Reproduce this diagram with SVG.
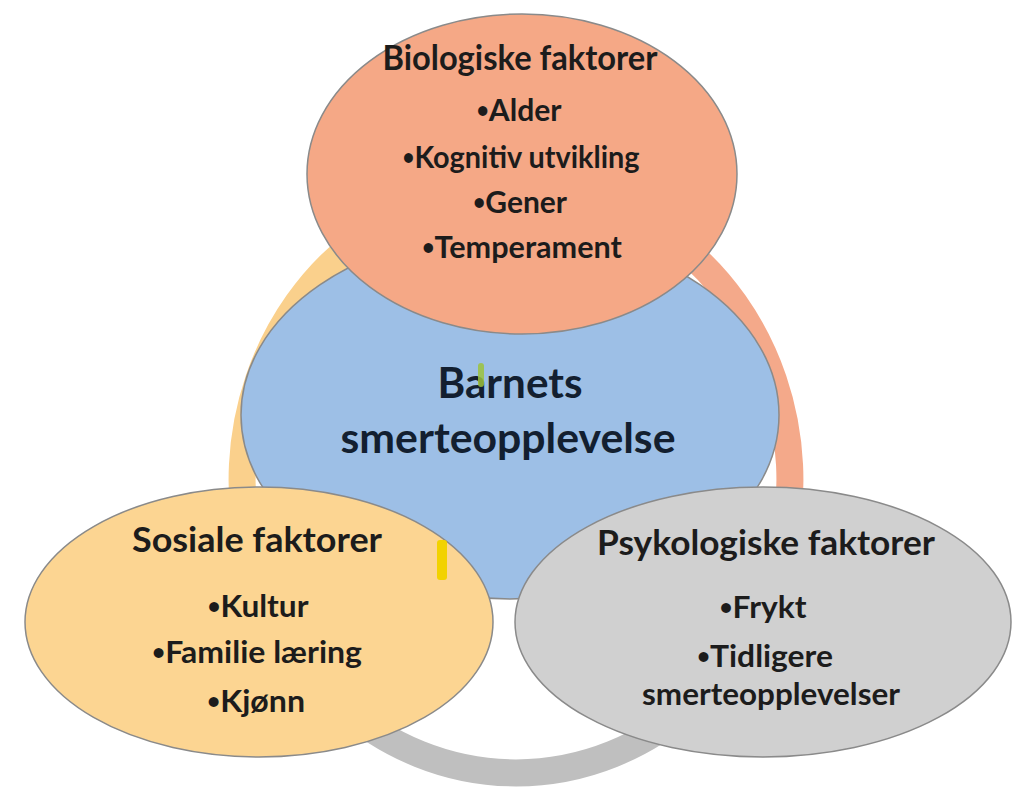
<svg xmlns="http://www.w3.org/2000/svg" width="1025" height="790" viewBox="0 0 1025 790">
<style>
.ring{fill:none;stroke-width:27}
.node{stroke:#8a8a8a;stroke-width:1.5}
.t{font-family:Lato,"Open Sans","Liberation Sans",sans-serif;font-weight:bold;text-anchor:middle;fill:#1c1c1c}
.h{font-size:34px}
.b{font-size:31px}
.c{font-size:42px;fill:#131f30}
.bu{font-size:22px}
</style>
<rect width="1025" height="790" fill="#ffffff"/>
<g id="connectors">
<path class="ring" stroke="#FAD08C" d="M516,187 A274,293 0 0 0 339.9,704.4"/>
<path class="ring" stroke="#BFBFBF" d="M339.9,704.4 A274,293 0 0 0 692.1,704.4"/>
<path class="ring" stroke="#F4A98A" d="M692.1,704.4 A274,293 0 0 0 516,187"/>
</g>
<g id="center">
<ellipse class="node" cx="510" cy="415" rx="269" ry="184" fill="#9DBFE6" stroke="#7f8ea3"/>
<text class="t c" x="510" y="398" textLength="145" lengthAdjust="spacingAndGlyphs">Barnets</text>
<text class="t c" x="508" y="453" textLength="335" lengthAdjust="spacingAndGlyphs">smerteopplevelse</text>
<rect x="478" y="363" width="6" height="24" rx="3" fill="#9cc23c" opacity="0.85"/>
</g>
<g id="biologiske">
<ellipse class="node" cx="522" cy="174" rx="215" ry="160" fill="#F5A886" stroke="#9a8478"/>
<text class="t h" x="520" y="70" textLength="275" lengthAdjust="spacingAndGlyphs">Biologiske faktorer</text>
<text class="t b" x="519" y="121" textLength="85" lengthAdjust="spacingAndGlyphs"><tspan class="bu" dy="-3">•</tspan><tspan dy="3">Alder</tspan></text>
<text class="t b" x="521" y="168" textLength="237" lengthAdjust="spacingAndGlyphs"><tspan class="bu" dy="-3">•</tspan><tspan dy="3">Kognitiv utvikling</tspan></text>
<text class="t b" x="520" y="213" textLength="94" lengthAdjust="spacingAndGlyphs"><tspan class="bu" dy="-3">•</tspan><tspan dy="3">Gener</tspan></text>
<text class="t b" x="522" y="258" textLength="200" lengthAdjust="spacingAndGlyphs"><tspan class="bu" dy="-3">•</tspan><tspan dy="3">Temperament</tspan></text>
</g>
<g id="sosiale">
<ellipse class="node" cx="259" cy="622" rx="234" ry="135" fill="#FCD592" stroke="#9a8f70"/>
<rect x="437" y="540" width="10" height="40" rx="3" fill="#F2D200"/>
<text class="t h" x="257" y="552" textLength="250" lengthAdjust="spacingAndGlyphs">Sosiale faktorer</text>
<text class="t b" x="258" y="617" textLength="101" lengthAdjust="spacingAndGlyphs"><tspan class="bu" dy="-3">•</tspan><tspan dy="3">Kultur</tspan></text>
<text class="t b" x="257" y="663" textLength="210" lengthAdjust="spacingAndGlyphs"><tspan class="bu" dy="-3">•</tspan><tspan dy="3">Familie læring</tspan></text>
<text class="t b" x="256" y="712" textLength="98" lengthAdjust="spacingAndGlyphs"><tspan class="bu" dy="-3">•</tspan><tspan dy="3">Kjønn</tspan></text>
</g>
<g id="psykologiske">
<ellipse class="node" cx="763" cy="622" rx="248" ry="135" fill="#D0D0D0" stroke="#8a8a8a"/>
<text class="t h" x="766" y="555" textLength="338" lengthAdjust="spacingAndGlyphs">Psykologiske faktorer</text>
<text class="t b" x="763" y="618" textLength="87" lengthAdjust="spacingAndGlyphs"><tspan class="bu" dy="-3">•</tspan><tspan dy="3">Frykt</tspan></text>
<text class="t b" x="765" y="667" textLength="136" lengthAdjust="spacingAndGlyphs"><tspan class="bu" dy="-3">•</tspan><tspan dy="3">Tidligere</tspan></text>
<text class="t b" x="771" y="705" textLength="258" lengthAdjust="spacingAndGlyphs">smerteopplevelser</text>
</g>
</svg>
